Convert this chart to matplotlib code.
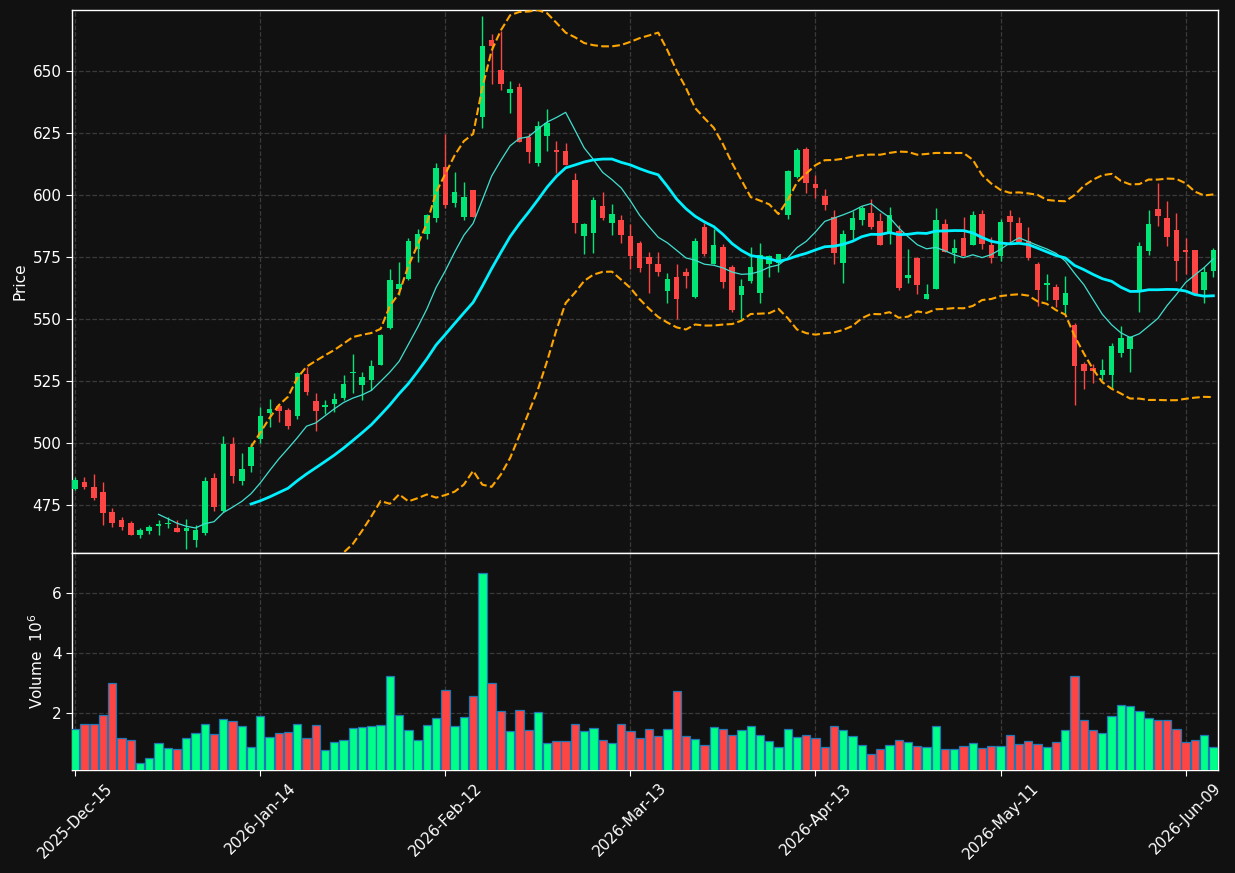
import numpy as np
import pandas as pd
import matplotlib
matplotlib.use("Agg")
import matplotlib.pyplot as plt

# ---------------- data ----------------
opens = [481.6, 484.3, 482.3, 480.2, 472.2, 469.0, 467.6, 463.0, 464.6, 466.6,
         467.1, 465.7, 464.6, 461.0, 463.7, 485.9, 472.7, 499.6, 484.8, 490.7,
         501.6, 512.2, 514.9, 513.3, 511.0, 527.8, 516.9, 514.4, 515.8, 518.3,
         528.2, 523.5, 525.5, 531.6, 546.5, 562.2, 566.1, 578.3, 584.4, 590.8,
         611.2, 596.9, 591.3, 602.0, 631.6, 662.5, 650.4, 641.3, 643.4, 623.5,
         613.0, 623.9, 618.0, 617.7, 606.0, 583.6, 584.8, 595.6, 588.8, 589.9,
         583.5, 580.5, 575.0, 572.2, 561.4, 566.9, 568.8, 559.0, 587.0, 572.2,
         578.9, 571.0, 559.8, 565.3, 560.6, 572.2, 572.7, 591.9, 607.3, 618.5,
         604.4, 599.6, 591.0, 572.7, 586.0, 590.0, 592.6, 589.5, 585.1, 585.4,
         566.7, 574.6, 558.2, 562.2, 588.2, 576.7, 582.8, 580.0, 592.2, 579.7,
         575.5, 591.5, 588.8, 581.6, 572.2, 563.7, 563.0, 555.6, 547.6, 531.9,
         530.2, 527.4, 527.4, 536.2, 538.0, 561.7, 577.5, 594.4, 590.6, 585.9,
         577.8, 577.8, 561.7, 569.4]
highs = [486.2, 486.2, 487.4, 484.1, 473.7, 470.2, 468.4, 465.6, 466.7, 468.8,
         470.3, 468.8, 469.4, 466.7, 486.2, 487.8, 502.8, 502.3, 496.0, 499.9,
         514.6, 517.6, 515.7, 514.0, 528.8, 530.8, 520.0, 517.3, 520.0, 527.3,
         535.8, 528.5, 533.3, 543.8, 570.0, 573.1, 582.5, 586.2, 592.3, 612.8,
         624.5, 609.2, 605.1, 602.2, 672.2, 664.8, 666.1, 645.8, 645.0, 625.1,
         629.7, 634.6, 621.6, 620.8, 608.7, 588.5, 599.1, 601.3, 596.4, 591.8,
         588.2, 581.5, 576.9, 576.9, 568.4, 572.0, 570.4, 582.8, 588.6, 586.2,
         580.2, 571.7, 566.3, 579.2, 580.8, 575.6, 576.3, 609.9, 619.0, 619.4,
         608.1, 602.3, 594.0, 585.9, 593.5, 595.6, 598.5, 592.9, 595.0, 588.0,
         578.1, 574.8, 564.0, 594.6, 590.2, 582.1, 591.0, 593.5, 593.8, 583.0,
         590.2, 594.0, 591.0, 587.2, 572.9, 568.1, 564.0, 567.5, 548.3, 532.8,
         531.7, 533.9, 540.2, 547.2, 543.2, 581.2, 594.0, 604.7, 597.7, 592.6,
         582.8, 578.0, 570.8, 578.5]
lows = [481.0, 481.3, 477.0, 466.7, 466.0, 464.8, 462.8, 461.6, 463.2, 462.8,
        465.5, 464.0, 457.4, 457.9, 462.9, 472.6, 472.2, 483.7, 482.9, 488.4,
        499.9, 506.6, 508.6, 505.5, 509.7, 519.5, 505.0, 511.7, 512.4, 517.3,
        520.0, 517.3, 521.4, 531.5, 546.0, 559.7, 565.7, 572.9, 582.1, 589.0,
        594.6, 595.3, 589.9, 591.0, 626.9, 644.6, 642.5, 632.9, 621.3, 612.8,
        611.6, 617.9, 608.9, 612.0, 584.6, 576.1, 576.5, 589.9, 583.9, 580.5,
        570.2, 569.1, 560.6, 567.5, 556.3, 549.9, 562.4, 558.3, 575.5, 572.0,
        562.4, 552.9, 549.6, 564.4, 556.3, 566.8, 569.1, 590.2, 607.0, 600.9,
        598.9, 593.8, 572.0, 564.6, 582.1, 587.8, 586.4, 579.8, 580.1, 561.6,
        564.4, 560.1, 558.0, 562.0, 577.0, 572.7, 575.2, 579.8, 578.1, 572.5,
        573.5, 581.2, 581.0, 573.8, 555.4, 557.7, 555.0, 552.0, 515.2, 521.6,
        524.1, 525.4, 522.0, 534.8, 528.5, 552.9, 575.8, 587.5, 579.4, 565.4,
        568.1, 559.9, 556.6, 567.0]
closes = [485.1, 482.4, 477.9, 471.9, 467.5, 465.9, 463.0, 464.9, 466.1, 467.3,
          467.4, 464.2, 465.7, 464.9, 484.7, 474.1, 499.6, 486.8, 489.5, 498.3,
          510.9, 513.6, 513.0, 507.0, 528.1, 520.6, 513.0, 515.3, 517.7, 523.8,
          528.6, 526.5, 530.9, 543.4, 565.6, 564.1, 581.3, 584.1, 591.8, 610.8,
          596.1, 601.2, 599.2, 591.3, 660.1, 660.2, 644.9, 642.7, 621.5, 617.5,
          627.7, 629.0, 617.5, 612.1, 588.8, 588.3, 598.0, 590.8, 592.3, 584.0,
          575.4, 570.7, 572.2, 569.1, 566.0, 558.1, 567.5, 581.5, 576.2, 579.7,
          565.0, 553.6, 563.3, 571.0, 575.8, 575.4, 576.1, 609.7, 618.1, 605.0,
          602.9, 596.1, 576.7, 584.3, 590.6, 594.8, 587.1, 580.0, 591.8, 562.6,
          567.7, 563.8, 560.1, 589.9, 577.1, 578.6, 575.4, 591.8, 580.4, 574.7,
          589.0, 589.1, 581.2, 574.6, 561.7, 564.4, 557.7, 560.6, 531.0, 529.0,
          529.0, 529.4, 539.1, 542.2, 542.9, 579.4, 588.3, 591.7, 583.2, 573.5,
          577.1, 560.1, 568.8, 577.8]
volumes_m = [1.47, 1.63, 1.63, 1.93, 3.00, 1.16, 1.09, 0.33, 0.50, 1.00,
             0.83, 0.80, 1.16, 1.33, 1.63, 1.30, 1.80, 1.73, 1.57, 0.87,
             1.90, 1.20, 1.33, 1.37, 1.63, 1.16, 1.60, 0.77, 1.03, 1.10,
             1.50, 1.53, 1.57, 1.60, 3.23, 1.93, 1.43, 1.10, 1.60, 1.83,
             2.77, 1.57, 1.87, 2.57, 6.67, 3.00, 2.07, 1.40, 2.10, 1.43,
             2.03, 1.00, 1.07, 1.07, 1.63, 1.40, 1.50, 1.10, 1.00, 1.63,
             1.40, 1.16, 1.47, 1.23, 1.47, 2.73, 1.23, 1.13, 0.93, 1.53,
             1.47, 1.27, 1.43, 1.57, 1.27, 1.07, 0.87, 1.47, 1.20, 1.27,
             1.17, 0.87, 1.57, 1.43, 1.23, 0.93, 0.63, 0.80, 0.93, 1.10,
             1.03, 0.90, 0.87, 1.57, 0.80, 0.80, 0.90, 1.00, 0.83, 0.90,
             0.90, 1.27, 0.97, 1.07, 0.97, 0.87, 1.03, 1.43, 3.23, 1.77,
             1.43, 1.33, 1.90, 2.27, 2.23, 2.07, 1.83, 1.77, 1.77, 1.47,
             1.03, 1.10, 1.27, 0.87]
tick_labels = ['2025-Dec-15', '2026-Jan-14', '2026-Feb-12', '2026-Mar-13',
               '2026-Apr-13', '2026-May-11', '2026-Jun-09']
tick_every = 20

# ---------------- derived series ----------------
o = np.array(opens); h = np.array(highs); l = np.array(lows); c = np.array(closes)
v = np.array(volumes_m)
x = np.arange(len(c))
cs = pd.Series(c)
ma10 = cs.rolling(10).mean()
ma20 = cs.rolling(20).mean()
sd20 = cs.rolling(20).std(ddof=0)
bb_up = ma20 + 2 * sd20
bb_lo = ma20 - 2 * sd20

BG = '#111111'
UP_C, DN_C = '#00e676', '#ff4444'
UP_V, DN_V = '#00ff88', '#ff4444'
up = c >= o

fig = plt.figure(figsize=(12.35, 8.73), dpi=100, facecolor=BG)
W, H = 1235, 873
L, R = 72, 1218
ax = fig.add_axes([L / W, 1 - 553 / H, (R - L) / W, (553 - 10) / H])
axv = fig.add_axes([L / W, 1 - 770 / H, (R - L) / W, (770 - 553) / H], sharex=ax)

for a in (ax, axv):
    a.set_facecolor(BG)
    for s in a.spines.values():
        s.set_color('white')
        s.set_linewidth(1.0)
    a.tick_params(colors='white', labelcolor='white', labelsize=11, direction='out', length=4)
    a.grid(True, linestyle='--', color='#3a3a3a', linewidth=0.9)
    a.set_axisbelow(True)

# candles
ccol = np.where(up, UP_C, DN_C)
ax.vlines(x, l, h, colors=ccol, linewidth=1.0, zorder=2)
body_lo = np.minimum(o, c)
body_h = np.maximum(np.abs(c - o), 0.6)
ax.bar(x, body_h, bottom=body_lo, width=0.6, color=ccol, linewidth=0, zorder=3)

# moving averages and bands
ax.plot(x, ma10, color='#40e0d0', linewidth=0.9, zorder=4)
ax.plot(x, ma20, color='#00f0ff', linewidth=2.0, zorder=4)
ax.plot(x, bb_up, color='orange', linewidth=1.5, linestyle='--', zorder=4)
ax.plot(x, bb_lo, color='orange', linewidth=1.5, linestyle='--', zorder=4)

ax.set_ylim(455.6, 674.6)
ax.set_yticks(np.arange(475, 651, 25))
ax.set_ylabel('Price', color='white', fontsize=11)
ax.tick_params(axis='x', labelbottom=False, length=0)

# volume
vcol = np.where(up, UP_V, DN_V)
axv.bar(x, v, width=0.9, color=vcol, edgecolor='#1f77b4', linewidth=0.9, zorder=3)
axv.set_ylim(0.3 * v.min(), 1.1 * v.max())
axv.set_yticks([2, 4, 6])
axv.set_ylabel(r'Volume  $10^{6}$', color='white', fontsize=11)

ticks = np.arange(0, len(c), tick_every)[:len(tick_labels)]
axv.set_xticks(ticks)
axv.set_xticklabels(tick_labels, rotation=45, ha='center')
axv.set_xlim(-0.35, len(c) - 0.5)

fig.savefig('out.png', dpi=100, facecolor=BG)
